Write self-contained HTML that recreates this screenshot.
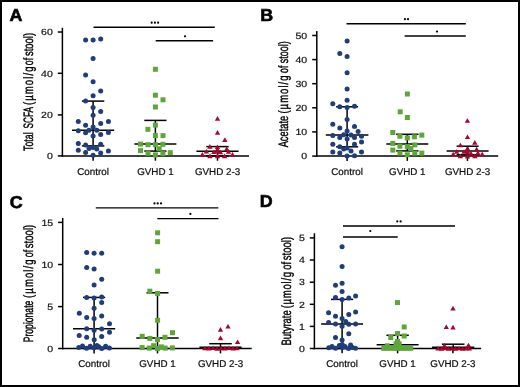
<!DOCTYPE html><html><head><meta charset="utf-8"><style>html,body{margin:0;padding:0;background:#fff;}svg{display:block;will-change:transform;}text{font-family:"Liberation Sans",sans-serif;text-rendering:geometricPrecision;}</style></head><body>
<svg width="520" height="387" viewBox="0 0 520 387">
<rect x="0" y="0" width="520" height="387" fill="#fff"/>
<g stroke="#000" fill="none" stroke-linecap="butt">
<line x1="62.4" y1="27.8" x2="62.4" y2="156.65" stroke-width="1.5"/>
<line x1="61.65" y1="155.9" x2="249" y2="155.9" stroke-width="1.5"/>
<line x1="57.8" y1="32.0" x2="62.4" y2="32.0" stroke-width="1.5"/>
<line x1="57.8" y1="73.3" x2="62.4" y2="73.3" stroke-width="1.5"/>
<line x1="57.8" y1="114.9" x2="62.4" y2="114.9" stroke-width="1.5"/>
<line x1="57.8" y1="155.9" x2="62.4" y2="155.9" stroke-width="1.5"/>
<line x1="93.1" y1="155.9" x2="93.1" y2="160.70000000000002" stroke-width="1.5"/>
<line x1="155.4" y1="155.9" x2="155.4" y2="160.70000000000002" stroke-width="1.5"/>
<line x1="217.5" y1="155.9" x2="217.5" y2="160.70000000000002" stroke-width="1.5"/>
<line x1="93.5" y1="27.2" x2="214.8" y2="27.2" stroke-width="1.35"/>
<line x1="155.7" y1="40.7" x2="213.1" y2="40.7" stroke-width="1.35"/>
<line x1="93.1" y1="101.1" x2="93.1" y2="145.9" stroke-width="1.5"/>
<line x1="81.89999999999999" y1="101.1" x2="104.3" y2="101.1" stroke-width="1.5"/>
<line x1="81.89999999999999" y1="145.9" x2="104.3" y2="145.9" stroke-width="1.5"/>
<line x1="72.0" y1="130.2" x2="114.19999999999999" y2="130.2" stroke-width="1.5"/>
<line x1="155.4" y1="120.4" x2="155.4" y2="151.1" stroke-width="1.5"/>
<line x1="144.3" y1="120.4" x2="166.5" y2="120.4" stroke-width="1.5"/>
<line x1="144.3" y1="151.1" x2="166.5" y2="151.1" stroke-width="1.5"/>
<line x1="134.4" y1="144.1" x2="176.4" y2="144.1" stroke-width="1.5"/>
<line x1="217.5" y1="146.6" x2="217.5" y2="155.9" stroke-width="1.5"/>
<line x1="206.3" y1="146.6" x2="228.7" y2="146.6" stroke-width="1.5"/>
<line x1="206.3" y1="155.9" x2="228.7" y2="155.9" stroke-width="1.5"/>
<line x1="196.4" y1="151.3" x2="238.6" y2="151.3" stroke-width="1.5"/>
</g>
<circle cx="151.7" cy="22.7" r="1.1" fill="#000" stroke="none"/>
<circle cx="154.9" cy="22.7" r="1.1" fill="#000" stroke="none"/>
<circle cx="158.1" cy="22.7" r="1.1" fill="#000" stroke="none"/>
<circle cx="185.0" cy="36.3" r="1.1" fill="#000" stroke="none"/>
<g font-size="9.0" text-anchor="end" fill="#111" stroke="#111" stroke-width="0.18">
<text transform="translate(52.8 35.25) scale(1.17 1)">60</text>
<text transform="translate(52.8 76.55) scale(1.17 1)">40</text>
<text transform="translate(52.8 118.15) scale(1.17 1)">20</text>
<text transform="translate(52.8 159.15) scale(1.17 1)">0</text>
</g>
<g font-size="9.8" text-anchor="middle" fill="#111" stroke="#111" stroke-width="0.22">
<text x="93.1" y="175.1">Control</text>
<text x="155.4" y="175.1">GVHD 1</text>
<text x="217.5" y="175.1">GVHD 2-3</text>
</g>
<g font-size="13.6" fill="#000" stroke="#000" stroke-width="0.4">
<text transform="translate(32.5 150.90) rotate(-90) scale(0.644 1)" textLength="28.72" lengthAdjust="spacing">Total</text>
<text transform="translate(32.5 128.40) rotate(-90) scale(0.605 1)" textLength="35.52" lengthAdjust="spacing">SCFA</text>
<text transform="translate(32.5 105.10) rotate(-90) scale(0.700 1)" textLength="55.14" lengthAdjust="spacing">(µmol/g</text>
<text transform="translate(32.5 65.20) rotate(-90) scale(0.644 1)" textLength="11.34" lengthAdjust="spacing">of</text>
<text transform="translate(32.5 56.10) rotate(-90) scale(0.698 1)" textLength="33.25" lengthAdjust="spacing">stool)</text>
</g>
<text transform="translate(9.4 21.0) scale(1.04 1)" font-size="17.2" font-weight="bold" fill="#000" stroke="#000" stroke-width="0.6">A</text>
<g stroke="#000" fill="none" stroke-linecap="butt">
<line x1="316.8" y1="31.0" x2="316.8" y2="156.85" stroke-width="1.5"/>
<line x1="316.05" y1="156.1" x2="498.2" y2="156.1" stroke-width="1.5"/>
<line x1="312.2" y1="35.5" x2="316.8" y2="35.5" stroke-width="1.5"/>
<line x1="312.2" y1="59.6" x2="316.8" y2="59.6" stroke-width="1.5"/>
<line x1="312.2" y1="83.7" x2="316.8" y2="83.7" stroke-width="1.5"/>
<line x1="312.2" y1="107.8" x2="316.8" y2="107.8" stroke-width="1.5"/>
<line x1="312.2" y1="131.9" x2="316.8" y2="131.9" stroke-width="1.5"/>
<line x1="312.2" y1="156.1" x2="316.8" y2="156.1" stroke-width="1.5"/>
<line x1="347.1" y1="156.1" x2="347.1" y2="160.9" stroke-width="1.5"/>
<line x1="407.3" y1="156.1" x2="407.3" y2="160.9" stroke-width="1.5"/>
<line x1="467.5" y1="156.1" x2="467.5" y2="160.9" stroke-width="1.5"/>
<line x1="346.5" y1="23.7" x2="465.8" y2="23.7" stroke-width="1.35"/>
<line x1="404.6" y1="36.0" x2="465.8" y2="36.0" stroke-width="1.35"/>
<line x1="347.1" y1="106.8" x2="347.1" y2="146.8" stroke-width="1.5"/>
<line x1="336.1" y1="106.8" x2="358.1" y2="106.8" stroke-width="1.5"/>
<line x1="336.1" y1="146.8" x2="358.1" y2="146.8" stroke-width="1.5"/>
<line x1="325.8" y1="135.0" x2="368.40000000000003" y2="135.0" stroke-width="1.5"/>
<line x1="407.3" y1="134.3" x2="407.3" y2="150.9" stroke-width="1.5"/>
<line x1="396.1" y1="134.3" x2="418.5" y2="134.3" stroke-width="1.5"/>
<line x1="396.1" y1="150.9" x2="418.5" y2="150.9" stroke-width="1.5"/>
<line x1="386.3" y1="144.0" x2="428.3" y2="144.0" stroke-width="1.5"/>
<line x1="467.6" y1="146.2" x2="467.6" y2="154.7" stroke-width="1.5"/>
<line x1="456.6" y1="146.2" x2="478.6" y2="146.2" stroke-width="1.5"/>
<line x1="456.6" y1="154.7" x2="478.6" y2="154.7" stroke-width="1.5"/>
<line x1="446.6" y1="151.0" x2="488.6" y2="151.0" stroke-width="1.5"/>
</g>
<circle cx="404.9" cy="19.2" r="1.1" fill="#000" stroke="none"/>
<circle cx="408.0" cy="19.2" r="1.1" fill="#000" stroke="none"/>
<circle cx="437.0" cy="31.6" r="1.1" fill="#000" stroke="none"/>
<g font-size="9.0" text-anchor="end" fill="#111" stroke="#111" stroke-width="0.18">
<text transform="translate(307.2 38.75) scale(1.17 1)">50</text>
<text transform="translate(307.2 62.85) scale(1.17 1)">40</text>
<text transform="translate(307.2 86.95) scale(1.17 1)">30</text>
<text transform="translate(307.2 111.05) scale(1.17 1)">20</text>
<text transform="translate(307.2 135.15) scale(1.17 1)">10</text>
<text transform="translate(307.2 159.35) scale(1.17 1)">0</text>
</g>
<g font-size="9.8" text-anchor="middle" fill="#111" stroke="#111" stroke-width="0.22">
<text x="347.1" y="175.3">Control</text>
<text x="407.3" y="175.3">GVHD 1</text>
<text x="467.5" y="175.3">GVHD 2-3</text>
</g>
<g font-size="13.6" fill="#000" stroke="#000" stroke-width="0.4">
<text transform="translate(287.6 147.30) rotate(-90) scale(0.681 1)" textLength="46.11" lengthAdjust="spacing">Acetate</text>
<text transform="translate(287.6 113.60) rotate(-90) scale(0.700 1)" textLength="54.57" lengthAdjust="spacing">(µmol/g</text>
<text transform="translate(287.6 72.90) rotate(-90) scale(0.635 1)" textLength="11.34" lengthAdjust="spacing">of</text>
<text transform="translate(287.6 63.30) rotate(-90) scale(0.659 1)" textLength="33.25" lengthAdjust="spacing">stool)</text>
</g>
<text transform="translate(260.2 21.2) scale(1.04 1)" font-size="17.2" font-weight="bold" fill="#000" stroke="#000" stroke-width="0.6">B</text>
<g stroke="#000" fill="none" stroke-linecap="butt">
<line x1="62.7" y1="218.0" x2="62.7" y2="349.35" stroke-width="1.5"/>
<line x1="61.95" y1="348.6" x2="251.7" y2="348.6" stroke-width="1.5"/>
<line x1="58.1" y1="222.4" x2="62.7" y2="222.4" stroke-width="1.5"/>
<line x1="58.1" y1="264.5" x2="62.7" y2="264.5" stroke-width="1.5"/>
<line x1="58.1" y1="306.6" x2="62.7" y2="306.6" stroke-width="1.5"/>
<line x1="58.1" y1="348.5" x2="62.7" y2="348.5" stroke-width="1.5"/>
<line x1="94.1" y1="348.6" x2="94.1" y2="353.40000000000003" stroke-width="1.5"/>
<line x1="157.5" y1="348.6" x2="157.5" y2="353.40000000000003" stroke-width="1.5"/>
<line x1="220.5" y1="348.6" x2="220.5" y2="353.40000000000003" stroke-width="1.5"/>
<line x1="95.8" y1="207.8" x2="218.3" y2="207.8" stroke-width="1.35"/>
<line x1="157.3" y1="218.6" x2="218.5" y2="218.6" stroke-width="1.35"/>
<line x1="94.1" y1="297.4" x2="94.1" y2="348.5" stroke-width="1.5"/>
<line x1="83.0" y1="297.4" x2="105.19999999999999" y2="297.4" stroke-width="1.5"/>
<line x1="83.0" y1="348.5" x2="105.19999999999999" y2="348.5" stroke-width="1.5"/>
<line x1="73.0" y1="328.8" x2="115.19999999999999" y2="328.8" stroke-width="1.5"/>
<line x1="157.5" y1="292.8" x2="157.5" y2="348.5" stroke-width="1.5"/>
<line x1="146.5" y1="292.8" x2="168.5" y2="292.8" stroke-width="1.5"/>
<line x1="146.5" y1="348.5" x2="168.5" y2="348.5" stroke-width="1.5"/>
<line x1="136.3" y1="337.9" x2="178.7" y2="337.9" stroke-width="1.5"/>
<line x1="220.5" y1="343.7" x2="220.5" y2="348.5" stroke-width="1.5"/>
<line x1="209.2" y1="343.7" x2="231.8" y2="343.7" stroke-width="1.5"/>
<line x1="209.2" y1="348.5" x2="231.8" y2="348.5" stroke-width="1.5"/>
<line x1="199.4" y1="347.2" x2="241.6" y2="347.2" stroke-width="1.5"/>
</g>
<circle cx="154.5" cy="203.4" r="1.1" fill="#000" stroke="none"/>
<circle cx="157.7" cy="203.4" r="1.1" fill="#000" stroke="none"/>
<circle cx="161.0" cy="203.4" r="1.1" fill="#000" stroke="none"/>
<circle cx="190.4" cy="213.9" r="1.1" fill="#000" stroke="none"/>
<g font-size="9.0" text-anchor="end" fill="#111" stroke="#111" stroke-width="0.18">
<text transform="translate(53.2 225.65) scale(1.17 1)">15</text>
<text transform="translate(53.2 267.75) scale(1.17 1)">10</text>
<text transform="translate(53.2 309.85) scale(1.17 1)">5</text>
<text transform="translate(53.2 351.75) scale(1.17 1)">0</text>
</g>
<g font-size="9.8" text-anchor="middle" fill="#111" stroke="#111" stroke-width="0.22">
<text x="94.1" y="367.4">Control</text>
<text x="157.5" y="367.4">GVHD 1</text>
<text x="220.5" y="367.4">GVHD 2-3</text>
</g>
<g font-size="13.6" fill="#000" stroke="#000" stroke-width="0.4">
<text transform="translate(33.4 342.30) rotate(-90) scale(0.633 1)" textLength="65.77" lengthAdjust="spacing">Propionate</text>
<text transform="translate(33.4 297.90) rotate(-90) scale(0.700 1)" textLength="54.86" lengthAdjust="spacing">(µmol/g</text>
<text transform="translate(33.4 257.20) rotate(-90) scale(0.652 1)" textLength="11.34" lengthAdjust="spacing">of</text>
<text transform="translate(33.4 248.30) rotate(-90) scale(0.700 1)" textLength="33.71" lengthAdjust="spacing">stool)</text>
</g>
<text transform="translate(9.8 207.7) scale(1.04 1)" font-size="17.2" font-weight="bold" fill="#000" stroke="#000" stroke-width="0.6">C</text>
<g stroke="#000" fill="none" stroke-linecap="butt">
<line x1="314.4" y1="233.3" x2="314.4" y2="349.25" stroke-width="1.5"/>
<line x1="313.65" y1="348.5" x2="481.1" y2="348.5" stroke-width="1.5"/>
<line x1="309.79999999999995" y1="237.9" x2="314.4" y2="237.9" stroke-width="1.5"/>
<line x1="309.79999999999995" y1="260.0" x2="314.4" y2="260.0" stroke-width="1.5"/>
<line x1="309.79999999999995" y1="282.2" x2="314.4" y2="282.2" stroke-width="1.5"/>
<line x1="309.79999999999995" y1="304.3" x2="314.4" y2="304.3" stroke-width="1.5"/>
<line x1="309.79999999999995" y1="326.4" x2="314.4" y2="326.4" stroke-width="1.5"/>
<line x1="309.79999999999995" y1="348.5" x2="314.4" y2="348.5" stroke-width="1.5"/>
<line x1="342.1" y1="348.5" x2="342.1" y2="353.3" stroke-width="1.5"/>
<line x1="397.6" y1="348.5" x2="397.6" y2="353.3" stroke-width="1.5"/>
<line x1="452.9" y1="348.5" x2="452.9" y2="353.3" stroke-width="1.5"/>
<line x1="343.0" y1="226.0" x2="455.0" y2="226.0" stroke-width="1.35"/>
<line x1="343.0" y1="237.0" x2="397.7" y2="237.0" stroke-width="1.35"/>
<line x1="342.1" y1="299.4" x2="342.1" y2="348.5" stroke-width="1.5"/>
<line x1="331.0" y1="299.4" x2="353.20000000000005" y2="299.4" stroke-width="1.5"/>
<line x1="331.0" y1="348.5" x2="353.20000000000005" y2="348.5" stroke-width="1.5"/>
<line x1="321.1" y1="324.0" x2="363.1" y2="324.0" stroke-width="1.5"/>
<line x1="397.6" y1="335.3" x2="397.6" y2="348.5" stroke-width="1.5"/>
<line x1="386.40000000000003" y1="335.3" x2="408.8" y2="335.3" stroke-width="1.5"/>
<line x1="386.40000000000003" y1="348.5" x2="408.8" y2="348.5" stroke-width="1.5"/>
<line x1="376.6" y1="344.8" x2="418.6" y2="344.8" stroke-width="1.5"/>
<line x1="453.2" y1="344.2" x2="453.2" y2="348.5" stroke-width="1.5"/>
<line x1="441.9" y1="344.2" x2="464.5" y2="344.2" stroke-width="1.5"/>
<line x1="441.9" y1="348.5" x2="464.5" y2="348.5" stroke-width="1.5"/>
<line x1="432.09999999999997" y1="347.2" x2="474.3" y2="347.2" stroke-width="1.5"/>
</g>
<circle cx="397.3" cy="221.4" r="1.1" fill="#000" stroke="none"/>
<circle cx="400.6" cy="221.4" r="1.1" fill="#000" stroke="none"/>
<circle cx="370.3" cy="231.0" r="1.1" fill="#000" stroke="none"/>
<g font-size="9.0" text-anchor="end" fill="#111" stroke="#111" stroke-width="0.18">
<text transform="translate(304.8 241.15) scale(1.17 1)">5</text>
<text transform="translate(304.8 263.25) scale(1.17 1)">4</text>
<text transform="translate(304.8 285.45) scale(1.17 1)">3</text>
<text transform="translate(304.8 307.55) scale(1.17 1)">2</text>
<text transform="translate(304.8 329.65) scale(1.17 1)">1</text>
<text transform="translate(304.8 351.75) scale(1.17 1)">0</text>
</g>
<g font-size="9.8" text-anchor="middle" fill="#111" stroke="#111" stroke-width="0.22">
<text x="342.1" y="367.1">Control</text>
<text x="397.6" y="367.1">GVHD 1</text>
<text x="452.9" y="367.1">GVHD 2-3</text>
</g>
<g font-size="13.6" fill="#000" stroke="#000" stroke-width="0.4">
<text transform="translate(291.4 345.60) rotate(-90) scale(0.699 1)" textLength="50.62" lengthAdjust="spacing">Butyrate</text>
<text transform="translate(291.4 308.30) rotate(-90) scale(0.700 1)" textLength="52.00" lengthAdjust="spacing">(µmol/g</text>
<text transform="translate(291.4 269.80) rotate(-90) scale(0.696 1)" textLength="11.34" lengthAdjust="spacing">of</text>
<text transform="translate(291.4 260.30) rotate(-90) scale(0.700 1)" textLength="33.43" lengthAdjust="spacing">stool)</text>
</g>
<text transform="translate(259.8 207.4) scale(1.04 1)" font-size="17.2" font-weight="bold" fill="#000" stroke="#000" stroke-width="0.6">D</text>
<g fill="#1f3d79">
<circle cx="85.6" cy="40.1" r="2.5"/>
<circle cx="93.1" cy="40.1" r="2.5"/>
<circle cx="100.7" cy="38.9" r="2.5"/>
<circle cx="93.1" cy="58.5" r="2.5"/>
<circle cx="85.6" cy="75" r="2.5"/>
<circle cx="93.1" cy="81.8" r="2.5"/>
<circle cx="100.7" cy="90.9" r="2.5"/>
<circle cx="93.1" cy="95.7" r="2.5"/>
<circle cx="85.6" cy="101.1" r="2.5"/>
<circle cx="93.1" cy="107.6" r="2.5"/>
<circle cx="100.7" cy="111.5" r="2.5"/>
<circle cx="93.1" cy="115.3" r="2.5"/>
<circle cx="78.3" cy="121.6" r="2.5"/>
<circle cx="108.4" cy="121.6" r="2.5"/>
<circle cx="85.6" cy="125.2" r="2.5"/>
<circle cx="100.7" cy="123.5" r="2.5"/>
<circle cx="93.1" cy="127" r="2.5"/>
<circle cx="78.3" cy="130.8" r="2.5"/>
<circle cx="89" cy="130.2" r="2.5"/>
<circle cx="96.8" cy="130.2" r="2.5"/>
<circle cx="85.6" cy="132.8" r="2.5"/>
<circle cx="108.4" cy="132.5" r="2.5"/>
<circle cx="100.7" cy="134.4" r="2.5"/>
<circle cx="93.1" cy="136" r="2.5"/>
<circle cx="78.3" cy="143.6" r="2.5"/>
<circle cx="85.6" cy="145.1" r="2.5"/>
<circle cx="100.7" cy="144.3" r="2.5"/>
<circle cx="89" cy="148.4" r="2.5"/>
<circle cx="93.1" cy="147.6" r="2.5"/>
<circle cx="96.8" cy="149.1" r="2.5"/>
<circle cx="78.3" cy="150.2" r="2.5"/>
<circle cx="85.6" cy="152.6" r="2.5"/>
<circle cx="100.7" cy="153" r="2.5"/>
<circle cx="108.4" cy="151" r="2.5"/>
<circle cx="93.1" cy="155.3" r="2.5"/>
<circle cx="347.1" cy="40.9" r="2.5"/>
<circle cx="339.8" cy="53.6" r="2.5"/>
<circle cx="347.1" cy="56.4" r="2.5"/>
<circle cx="347.1" cy="72.7" r="2.5"/>
<circle cx="347.1" cy="89.1" r="2.5"/>
<circle cx="347.1" cy="100.3" r="2.5"/>
<circle cx="332.8" cy="103.7" r="2.5"/>
<circle cx="339.8" cy="106.8" r="2.5"/>
<circle cx="347.1" cy="107.6" r="2.5"/>
<circle cx="354.5" cy="106.3" r="2.5"/>
<circle cx="347.1" cy="119.5" r="2.5"/>
<circle cx="332.8" cy="124.3" r="2.5"/>
<circle cx="339.8" cy="128" r="2.5"/>
<circle cx="354.5" cy="126.5" r="2.5"/>
<circle cx="347.1" cy="131" r="2.5"/>
<circle cx="358.1" cy="131.6" r="2.5"/>
<circle cx="332.8" cy="135.5" r="2.5"/>
<circle cx="343.7" cy="134.7" r="2.5"/>
<circle cx="351" cy="135" r="2.5"/>
<circle cx="339.8" cy="137.4" r="2.5"/>
<circle cx="354.5" cy="137.4" r="2.5"/>
<circle cx="361.5" cy="136.3" r="2.5"/>
<circle cx="347.1" cy="138.9" r="2.5"/>
<circle cx="361.5" cy="142" r="2.5"/>
<circle cx="332.8" cy="144.3" r="2.5"/>
<circle cx="354.5" cy="144.3" r="2.5"/>
<circle cx="339.8" cy="146.8" r="2.5"/>
<circle cx="343.7" cy="149.1" r="2.5"/>
<circle cx="347.1" cy="147.9" r="2.5"/>
<circle cx="351" cy="151" r="2.5"/>
<circle cx="332.8" cy="152.1" r="2.5"/>
<circle cx="339.8" cy="153" r="2.5"/>
<circle cx="361.5" cy="152.1" r="2.5"/>
<circle cx="347.1" cy="156" r="2.5"/>
<circle cx="354.5" cy="155.7" r="2.5"/>
<circle cx="86.7" cy="252.4" r="2.5"/>
<circle cx="94.1" cy="253.2" r="2.5"/>
<circle cx="101.7" cy="253.2" r="2.5"/>
<circle cx="86.7" cy="267.6" r="2.5"/>
<circle cx="94.1" cy="269.1" r="2.5"/>
<circle cx="101.7" cy="279.2" r="2.5"/>
<circle cx="94.1" cy="285" r="2.5"/>
<circle cx="86.7" cy="297.5" r="2.5"/>
<circle cx="94.1" cy="298" r="2.5"/>
<circle cx="101.7" cy="297" r="2.5"/>
<circle cx="101.7" cy="302.4" r="2.5"/>
<circle cx="94.1" cy="308.3" r="2.5"/>
<circle cx="79.3" cy="313.3" r="2.5"/>
<circle cx="86.7" cy="317.6" r="2.5"/>
<circle cx="94.1" cy="318.4" r="2.5"/>
<circle cx="101.7" cy="315.9" r="2.5"/>
<circle cx="109.5" cy="323.8" r="2.5"/>
<circle cx="86.7" cy="328.8" r="2.5"/>
<circle cx="94.1" cy="330.3" r="2.5"/>
<circle cx="101.7" cy="329.1" r="2.5"/>
<circle cx="109.5" cy="332.3" r="2.5"/>
<circle cx="79.2" cy="335.5" r="2.5"/>
<circle cx="86.7" cy="337.2" r="2.5"/>
<circle cx="101.7" cy="336.5" r="2.5"/>
<circle cx="94.2" cy="339.7" r="2.5"/>
<circle cx="78.8" cy="347.5" r="2.5"/>
<circle cx="82.5" cy="345.9" r="2.5"/>
<circle cx="86.5" cy="348.3" r="2.5"/>
<circle cx="90.2" cy="346.3" r="2.5"/>
<circle cx="94" cy="347.8" r="2.5"/>
<circle cx="96.9" cy="345.4" r="2.5"/>
<circle cx="98.8" cy="346.8" r="2.5"/>
<circle cx="101.7" cy="348.5" r="2.5"/>
<circle cx="105.6" cy="346.3" r="2.5"/>
<circle cx="109.4" cy="348.1" r="2.5"/>
<circle cx="342.1" cy="246.8" r="2.5"/>
<circle cx="342.1" cy="266.4" r="2.5"/>
<circle cx="335.5" cy="285.2" r="2.5"/>
<circle cx="342.1" cy="283.3" r="2.5"/>
<circle cx="342.1" cy="291.4" r="2.5"/>
<circle cx="335.5" cy="297.6" r="2.5"/>
<circle cx="342.1" cy="299.4" r="2.5"/>
<circle cx="348.8" cy="297.9" r="2.5"/>
<circle cx="355.6" cy="296" r="2.5"/>
<circle cx="328.6" cy="312.8" r="2.5"/>
<circle cx="335.5" cy="316.2" r="2.5"/>
<circle cx="348.8" cy="314.6" r="2.5"/>
<circle cx="355.6" cy="312" r="2.5"/>
<circle cx="342.1" cy="318.5" r="2.5"/>
<circle cx="345.7" cy="321.6" r="2.5"/>
<circle cx="328.6" cy="322.5" r="2.5"/>
<circle cx="335.5" cy="324" r="2.5"/>
<circle cx="342.1" cy="326.3" r="2.5"/>
<circle cx="348.8" cy="324.3" r="2.5"/>
<circle cx="355.6" cy="324" r="2.5"/>
<circle cx="335.5" cy="337.6" r="2.5"/>
<circle cx="348.8" cy="333.7" r="2.5"/>
<circle cx="342.1" cy="339.9" r="2.5"/>
<circle cx="328.8" cy="347.8" r="2.5"/>
<circle cx="332" cy="346.4" r="2.5"/>
<circle cx="335.5" cy="348.3" r="2.5"/>
<circle cx="339.3" cy="345.6" r="2.5"/>
<circle cx="342.2" cy="344.6" r="2.5"/>
<circle cx="342.4" cy="347.3" r="2.5"/>
<circle cx="345" cy="346.4" r="2.5"/>
<circle cx="348.5" cy="348.6" r="2.5"/>
<circle cx="350.6" cy="345" r="2.5"/>
<circle cx="352.5" cy="347.5" r="2.5"/>
<circle cx="355.5" cy="348.2" r="2.5"/>
</g>
<g fill="#5ea63a">
<rect x="152.90" y="66.80" width="5.0" height="5.0"/>
<rect x="152.90" y="92.70" width="5.0" height="5.0"/>
<rect x="160.50" y="97.30" width="5.0" height="5.0"/>
<rect x="152.90" y="104.50" width="5.0" height="5.0"/>
<rect x="152.90" y="122.60" width="5.0" height="5.0"/>
<rect x="145.40" y="126.80" width="5.0" height="5.0"/>
<rect x="152.90" y="133.10" width="5.0" height="5.0"/>
<rect x="160.50" y="133.10" width="5.0" height="5.0"/>
<rect x="138.00" y="141.60" width="5.0" height="5.0"/>
<rect x="145.50" y="142.20" width="5.0" height="5.0"/>
<rect x="152.90" y="142.20" width="5.0" height="5.0"/>
<rect x="160.40" y="141.80" width="5.0" height="5.0"/>
<rect x="138.00" y="148.10" width="5.0" height="5.0"/>
<rect x="156.70" y="146.30" width="5.0" height="5.0"/>
<rect x="145.50" y="150.80" width="5.0" height="5.0"/>
<rect x="152.90" y="152.40" width="5.0" height="5.0"/>
<rect x="160.40" y="151.10" width="5.0" height="5.0"/>
<rect x="167.80" y="150.20" width="5.0" height="5.0"/>
<rect x="404.90" y="91.50" width="5.0" height="5.0"/>
<rect x="397.70" y="109.30" width="5.0" height="5.0"/>
<rect x="404.90" y="115.00" width="5.0" height="5.0"/>
<rect x="390.30" y="130.00" width="5.0" height="5.0"/>
<rect x="397.40" y="133.70" width="5.0" height="5.0"/>
<rect x="404.80" y="135.40" width="5.0" height="5.0"/>
<rect x="411.90" y="134.30" width="5.0" height="5.0"/>
<rect x="419.30" y="132.60" width="5.0" height="5.0"/>
<rect x="390.30" y="140.90" width="5.0" height="5.0"/>
<rect x="397.40" y="143.70" width="5.0" height="5.0"/>
<rect x="404.80" y="144.10" width="5.0" height="5.0"/>
<rect x="412.30" y="142.40" width="5.0" height="5.0"/>
<rect x="408.30" y="146.10" width="5.0" height="5.0"/>
<rect x="390.30" y="147.60" width="5.0" height="5.0"/>
<rect x="397.40" y="150.60" width="5.0" height="5.0"/>
<rect x="404.80" y="152.30" width="5.0" height="5.0"/>
<rect x="412.30" y="150.60" width="5.0" height="5.0"/>
<rect x="419.30" y="150.60" width="5.0" height="5.0"/>
<rect x="155.10" y="230.30" width="5.0" height="5.0"/>
<rect x="155.10" y="239.20" width="5.0" height="5.0"/>
<rect x="155.10" y="268.70" width="5.0" height="5.0"/>
<rect x="147.30" y="288.70" width="5.0" height="5.0"/>
<rect x="155.10" y="291.00" width="5.0" height="5.0"/>
<rect x="155.10" y="317.80" width="5.0" height="5.0"/>
<rect x="170.00" y="330.20" width="5.0" height="5.0"/>
<rect x="139.70" y="333.80" width="5.0" height="5.0"/>
<rect x="147.30" y="335.90" width="5.0" height="5.0"/>
<rect x="155.00" y="337.10" width="5.0" height="5.0"/>
<rect x="162.50" y="334.80" width="5.0" height="5.0"/>
<rect x="139.60" y="345.10" width="5.0" height="5.0"/>
<rect x="146.80" y="345.60" width="5.0" height="5.0"/>
<rect x="151.10" y="343.20" width="5.0" height="5.0"/>
<rect x="155.00" y="346.10" width="5.0" height="5.0"/>
<rect x="158.80" y="344.40" width="5.0" height="5.0"/>
<rect x="162.70" y="345.60" width="5.0" height="5.0"/>
<rect x="169.90" y="345.40" width="5.0" height="5.0"/>
<rect x="395.00" y="300.10" width="5.0" height="5.0"/>
<rect x="401.70" y="324.50" width="5.0" height="5.0"/>
<rect x="395.10" y="331.00" width="5.0" height="5.0"/>
<rect x="388.30" y="335.00" width="5.0" height="5.0"/>
<rect x="401.70" y="333.50" width="5.0" height="5.0"/>
<rect x="395.10" y="339.00" width="5.0" height="5.0"/>
<rect x="393.50" y="341.30" width="5.0" height="5.0"/>
<rect x="396.70" y="341.30" width="5.0" height="5.0"/>
<rect x="384.70" y="343.30" width="5.0" height="5.0"/>
<rect x="381.30" y="345.80" width="5.0" height="5.0"/>
<rect x="384.70" y="345.80" width="5.0" height="5.0"/>
<rect x="388.20" y="345.80" width="5.0" height="5.0"/>
<rect x="391.70" y="345.80" width="5.0" height="5.0"/>
<rect x="395.10" y="345.80" width="5.0" height="5.0"/>
<rect x="398.50" y="345.80" width="5.0" height="5.0"/>
<rect x="401.70" y="345.80" width="5.0" height="5.0"/>
<rect x="404.70" y="345.80" width="5.0" height="5.0"/>
<rect x="408.20" y="345.80" width="5.0" height="5.0"/>
</g>
<g fill="#aa052f">
<path d="M217.50 116.10L220.20 120.70L214.80 120.70Z"/>
<path d="M217.50 130.10L220.20 134.70L214.80 134.70Z"/>
<path d="M224.90 137.30L227.60 141.90L222.20 141.90Z"/>
<path d="M209.90 144.10L212.60 148.70L207.20 148.70Z"/>
<path d="M217.50 144.50L220.20 149.10L214.80 149.10Z"/>
<path d="M217.50 146.70L220.20 151.30L214.80 151.30Z"/>
<path d="M226.70 146.50L229.40 151.10L224.00 151.10Z"/>
<path d="M206.40 149.00L209.10 153.60L203.70 153.60Z"/>
<path d="M228.50 149.20L231.20 153.80L225.80 153.80Z"/>
<path d="M220.50 149.70L223.20 154.30L217.80 154.30Z"/>
<path d="M213.90 149.50L216.60 154.10L211.20 154.10Z"/>
<path d="M202.40 152.10L205.10 156.70L199.70 156.70Z"/>
<path d="M210.00 153.60L212.70 158.20L207.30 158.20Z"/>
<path d="M217.50 153.60L220.20 158.20L214.80 158.20Z"/>
<path d="M224.50 153.60L227.20 158.20L221.80 158.20Z"/>
<path d="M232.50 152.10L235.20 156.70L229.80 156.70Z"/>
<path d="M217.50 148.90L220.20 153.50L214.80 153.50Z"/>
<path d="M467.40 118.20L470.10 122.80L464.70 122.80Z"/>
<path d="M467.50 134.50L470.20 139.10L464.80 139.10Z"/>
<path d="M474.80 140.10L477.50 144.70L472.10 144.70Z"/>
<path d="M460.40 142.70L463.10 147.30L457.70 147.30Z"/>
<path d="M467.50 145.90L470.20 150.50L464.80 150.50Z"/>
<path d="M467.50 148.20L470.20 152.80L464.80 152.80Z"/>
<path d="M476.60 146.70L479.30 151.30L473.90 151.30Z"/>
<path d="M456.70 149.20L459.40 153.80L454.00 153.80Z"/>
<path d="M464.00 149.20L466.70 153.80L461.30 153.80Z"/>
<path d="M471.00 151.00L473.70 155.60L468.30 155.60Z"/>
<path d="M477.90 150.40L480.60 155.00L475.20 155.00Z"/>
<path d="M453.20 151.70L455.90 156.30L450.50 156.30Z"/>
<path d="M482.20 151.70L484.90 156.30L479.50 156.30Z"/>
<path d="M460.40 153.70L463.10 158.30L457.70 158.30Z"/>
<path d="M467.50 154.00L470.20 158.60L464.80 158.60Z"/>
<path d="M474.80 153.70L477.50 158.30L472.10 158.30Z"/>
<path d="M467.50 149.90L470.20 154.50L464.80 154.50Z"/>
<path d="M228.00 324.00L230.70 328.60L225.30 328.60Z"/>
<path d="M220.50 327.10L223.20 331.70L217.80 331.70Z"/>
<path d="M220.50 335.60L223.20 340.20L217.80 340.20Z"/>
<path d="M237.60 339.50L240.30 344.10L234.90 344.10Z"/>
<path d="M205.00 345.70L207.70 350.30L202.30 350.30Z"/>
<path d="M209.00 346.00L211.70 350.60L206.30 350.60Z"/>
<path d="M213.00 345.50L215.70 350.10L210.30 350.10Z"/>
<path d="M217.00 346.20L219.70 350.80L214.30 350.80Z"/>
<path d="M221.00 345.70L223.70 350.30L218.30 350.30Z"/>
<path d="M225.00 346.00L227.70 350.60L222.30 350.60Z"/>
<path d="M229.00 345.50L231.70 350.10L226.30 350.10Z"/>
<path d="M233.00 346.00L235.70 350.60L230.30 350.60Z"/>
<path d="M237.00 345.70L239.70 350.30L234.30 350.30Z"/>
<path d="M453.00 305.80L455.70 310.40L450.30 310.40Z"/>
<path d="M446.30 324.50L449.00 329.10L443.60 329.10Z"/>
<path d="M453.00 324.80L455.70 329.40L450.30 329.40Z"/>
<path d="M444.40 343.20L447.10 347.80L441.70 347.80Z"/>
<path d="M468.50 342.70L471.20 347.30L465.80 347.30Z"/>
<path d="M438.00 345.90L440.70 350.50L435.30 350.50Z"/>
<path d="M441.50 346.20L444.20 350.80L438.80 350.80Z"/>
<path d="M445.00 345.70L447.70 350.30L442.30 350.30Z"/>
<path d="M448.50 346.20L451.20 350.80L445.80 350.80Z"/>
<path d="M452.00 345.90L454.70 350.50L449.30 350.50Z"/>
<path d="M455.50 346.20L458.20 350.80L452.80 350.80Z"/>
<path d="M459.00 345.70L461.70 350.30L456.30 350.30Z"/>
<path d="M462.50 346.20L465.20 350.80L459.80 350.80Z"/>
<path d="M466.00 345.90L468.70 350.50L463.30 350.50Z"/>
<path d="M469.30 346.00L472.00 350.60L466.60 350.60Z"/>
</g>
<rect x="1" y="1" width="518" height="385" fill="none" stroke="#000" stroke-width="2"/>
</svg></body></html>
